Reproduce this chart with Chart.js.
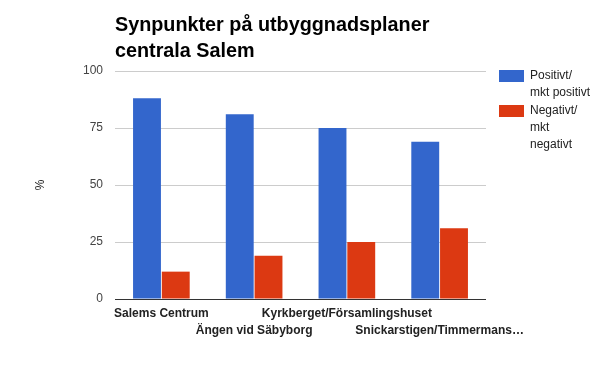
<!DOCTYPE html>
<html>
<head>
<meta charset="utf-8">
<script src="https://cdn.jsdelivr.net/npm/chart.js@4"></script>
<style>
  html, body { margin: 0; padding: 0; background: #fff; }
  #wrap { width: 600px; height: 371px; position: relative; }
</style>
</head>
<body>
<div id="wrap"><canvas id="chart"></canvas></div>
<script>
// Chart data
const categories = ['Salems Centrum', 'Ängen vid Säbyborg', 'Kyrkberget/Församlingshuset', 'Snickarstigen/Timmermans…'];
const positiveValues = [88, 81, 75, 69];
const negativeValues = [12, 19, 25, 31];
const yTicks = [0, 25, 50, 75, 100];
const titleLines = ['Synpunkter på utbyggnadsplaner', 'centrala Salem'];
const legendLines = [['Positivt/', 'mkt positivt'], ['Negativt/', 'mkt', 'negativt']];

const FONT = '"Liberation Sans", Arial, sans-serif';

// Title, y title and legend drawn on the canvas
const extrasPlugin = {
  id: 'extras',
  afterDraw(chart) {
    const ctx = chart.ctx;
    const area = chart.chartArea;
    ctx.save();
    ctx.fillStyle = '#000';
    ctx.font = 'bold 19.8px ' + FONT;
    ctx.textBaseline = 'alphabetic';
    ctx.textAlign = 'left';
    titleLines.forEach((line, i) => ctx.fillText(line, area.left, 31 + i * 26));

    // y axis title
    ctx.textBaseline = 'middle';
    ctx.save();
    ctx.translate(41, 185);
    ctx.rotate(-Math.PI / 2);
    ctx.textAlign = 'center';
    ctx.font = '12px ' + FONT;
    ctx.fillStyle = '#222';
    ctx.fillText('%', 0, 0);
    ctx.restore();

    // legend
    let y = 76;
    chart.data.datasets.forEach((ds, i) => {
      ctx.fillStyle = ds.backgroundColor;
      ctx.fillRect(499, y - 6, 25, 12);
      ctx.fillStyle = '#222';
      ctx.font = '12px ' + FONT;
      ctx.textAlign = 'left';
      legendLines[i].forEach((t, j) => ctx.fillText(t, 530, y + j * 17));
      y += legendLines[i].length * 17 + 1;
    });
    ctx.restore();
  }
};

new Chart(document.getElementById('chart'), {
  type: 'bar',
  data: {
    labels: categories,
    datasets: [{
      label: 'Positivt/ mkt positivt',
      data: positiveValues,
      backgroundColor: '#3366cc',
      categoryPercentage: 0.62,
      barPercentage: 0.97
    }, {
      label: 'Negativt/ mkt negativt',
      data: negativeValues,
      backgroundColor: '#dc3912',
      categoryPercentage: 0.62,
      barPercentage: 0.97
    }]
  },
  options: {
    responsive: true,
    maintainAspectRatio: false,
    animation: false,
    layout: {
      padding: { top: 71, right: 114, left: 0, bottom: 0 }
    },
    plugins: {
      legend: { display: false },
      title: { display: false },
      tooltip: { enabled: false }
    },
    scales: {
      x: {
        afterFit(scale) { scale.height = 72; },
        border: { display: false },
        grid: { display: false, drawTicks: false },
        ticks: {
          autoSkip: false,
          maxRotation: 0,
          minRotation: 0,
          padding: 7,
          color: '#222',
          font: { family: FONT, size: 12, weight: 'bold', lineHeight: 1.35 },
          callback(value, index) {
            const label = categories[index];
            return index % 2 === 0 ? [label] : ['', label];
          }
        }
      },
      y: {
        min: 0,
        max: 100,
        afterFit(scale) { scale.width = 115; },
        afterBuildTicks(scale) { scale.ticks = yTicks.map(v => ({ value: v })); },
        border: { display: false },
        grid: {
          drawTicks: false,
          color: ctx => ctx.tick && ctx.tick.value === 0 ? '#333' : '#cccccc',
          lineWidth: 1
        },
        ticks: {
          padding: 12,
          color: '#444',
          font: { family: FONT, size: 12 }
        }
      }
    }
  },
  plugins: [extrasPlugin]
});
</script>
</body>
</html>
